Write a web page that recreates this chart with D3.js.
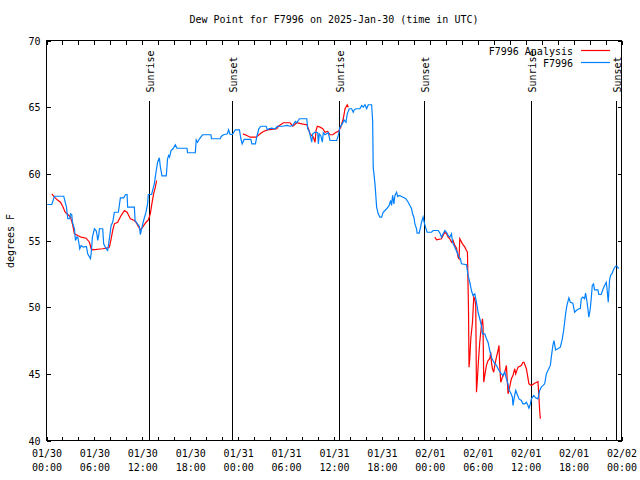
<!DOCTYPE html>
<html>
<head>
<meta charset="utf-8">
<script src="https://cdn.jsdelivr.net/npm/d3@7"></script>
<style>
  html, body { margin: 0; padding: 0; background: #fff; }
  svg { display: block; }
  text { font-family: "DejaVu Sans Mono", monospace; font-size: 10px; fill: #000; }
</style>
</head>
<body>
<svg id="chart" width="640" height="480"></svg>
<script>
// ---- data ----
const titleText = "Dew Point for F7996 on 2025-Jan-30 (time in UTC)";
const yLabelText = "degrees F";
const startTime = "2025-01-30T00:00:00Z";
const endTime = "2025-02-02T00:00:00Z";
const yTicks = [40, 45, 50, 55, 60, 65, 70];
const seriesNames = ["F7996 Analysis", "F7996"];
const seriesColors = ["#ff0000", "#0080ff"];

const sunriseHours = [12.79, 36.67, 60.66];
const sunsetHours = [23.29, 47.29, 71.29];

// F7996 observations (hours after start, deg F)
const blueHours = [0.09,0.66,1.0,2.16,2.34,2.5,2.66,2.91,3.0,3.16,3.25,3.5,3.63,3.79,3.91,4.04,4.16,4.34,4.59,5.0,5.16,5.5,5.59,5.75,6.0,6.21,6.34,6.41,6.54,6.63,7.04,7.16,7.46,7.66,7.84,8.09,8.29,8.5,9.0,9.25,9.66,9.91,10.09,10.16,11.0,11.09,11.63,11.75,11.91,12.16,12.46,12.66,12.75,13.16,13.5,13.71,13.91,14.13,14.25,14.46,15.0,15.16,15.29,15.41,15.59,15.84,16.13,16.34,17.59,17.66,18.63,18.75,18.91,19.16,19.54,20.59,20.66,21.75,21.88,22.16,22.66,22.79,23.0,23.29,23.63,24.16,24.34,24.5,24.75,25.59,25.71,26.16,26.34,26.59,26.84,27.5,27.66,27.84,28.16,28.63,28.91,29.59,30.09,30.5,30.84,31.16,31.34,31.66,32.59,32.71,32.91,33.21,33.34,33.63,33.96,34.04,34.16,34.34,34.54,34.66,34.88,35.29,35.5,36.34,36.54,36.75,37.09,37.25,37.5,37.66,37.91,38.21,38.41,38.54,38.75,39.25,39.46,39.66,39.88,40.09,40.29,40.71,40.84,40.91,41.13,41.34,41.54,41.75,41.96,42.16,42.59,42.91,43.09,43.21,43.34,43.5,43.63,43.84,43.96,44.16,44.66,45.0,45.29,45.5,45.71,45.84,46.0,46.13,46.34,46.41,46.66,46.84,46.96,47.16,47.29,47.46,47.66,48.21,48.41,49.04,49.25,49.46,49.66,49.88,50.09,50.29,50.5,50.71,50.84,51.13,51.41,51.66,51.84,51.96,52.59,52.79,53.0,53.21,53.41,53.63,53.75,53.91,54.04,54.25,54.46,54.59,54.88,55.09,55.29,55.5,55.71,55.91,56.13,56.34,56.66,56.96,57.16,57.38,57.59,57.79,57.91,58.09,58.34,58.41,58.54,58.75,58.91,59.16,59.46,59.66,59.88,60.09,60.29,60.41,60.59,60.71,61.0,61.25,61.54,61.75,61.96,62.38,62.59,62.79,63.09,63.21,63.41,63.54,63.75,64.04,64.34,64.59,64.75,64.88,65.0,65.16,65.41,65.59,65.91,66.13,66.34,66.66,66.84,66.96,67.16,67.38,67.5,67.66,67.79,67.91,68.09,68.21,68.34,68.5,68.63,69.04,69.16,69.46,69.66,69.88,70.09,70.21,70.34,70.5,70.63,70.84,71.04,71.25,71.46,71.63];
const blueValues = [57.70,57.70,58.32,58.32,57.87,57.50,56.63,56.63,57.00,56.95,56.37,55.88,55.0,55.25,55.25,54.87,54.38,54.63,54.50,54.55,54.0,53.63,54.0,55.25,55.88,55.75,55.38,55.0,55.38,55.88,55.88,54.75,54.38,54.25,55.0,56.13,56.37,57.12,57.12,58.2,58.2,58.45,58.45,57.5,57.5,56.5,56.05,55.45,55.88,56.5,57.12,57.75,58.45,58.45,59.25,60.12,60.87,61.2,60.55,59.85,59.85,61.13,61.38,61.25,61.75,61.88,62.18,61.92,61.92,61.58,61.58,62.55,62.37,62.63,62.93,62.93,62.63,62.63,62.8,62.93,63.0,63.3,62.95,62.95,63.3,63.3,62.63,62.25,62.58,62.58,62.25,62.25,62.8,63.38,63.57,63.57,63.3,63.38,63.42,63.38,63.57,63.57,63.63,63.57,63.63,63.93,63.83,64.13,64.13,63.38,63.18,62.37,63.0,63.12,63.08,62.25,63.0,62.88,62.37,63.08,62.93,63.08,62.5,62.5,62.88,63.5,63.8,64.05,63.87,64.5,64.88,64.88,64.62,64.8,64.88,64.88,65.12,65.0,65.18,64.88,65.18,65.18,64.0,60.5,59.25,57.5,57.0,56.75,56.75,57.12,57.38,57.63,58.0,57.63,58.38,57.75,58.38,58.62,58.3,58.38,58.25,58.13,57.87,57.63,57.38,57.0,56.75,56.25,55.88,55.55,55.55,56.0,56.37,56.75,56.37,56.0,55.62,55.62,55.75,55.75,55.57,55.25,55.5,55.75,55.62,55.38,55.25,55.5,54.87,54.5,54.12,53.75,53.63,53.25,53.18,52.38,51.87,51.25,50.87,51.0,50.63,50.12,49.62,49.13,48.62,48.0,48.0,47.63,47.37,46.75,46.25,46.0,45.75,45.63,45.25,45.0,44.87,45.12,44.63,44.25,43.75,43.62,43.25,42.62,43.12,43.75,43.5,43.12,43.0,42.75,42.75,42.87,42.62,42.42,42.75,43.12,43.38,43.2,43.12,43.75,44.0,44.25,45.0,45.25,45.63,46.25,47.13,47.5,46.8,46.88,47.0,47.63,48.25,48.87,49.5,50.12,50.7,50.37,50.3,49.62,49.75,49.88,49.88,50.63,50.75,50.63,51.05,50.5,49.88,49.25,49.88,50.63,51.63,51.75,51.3,51.3,50.95,50.95,51.3,51.63,51.87,51.25,50.37,52.0,52.38,52.55,52.88,53.07,53.07,52.88];

// F7996 Analysis (hours after start, deg F); null marks a gap
const redHours = [0.66,1.0,1.34,1.75,2.04,2.34,2.66,3.0,3.25,3.5,3.91,4.34,4.96,5.38,5.59,5.79,7.04,7.66,7.88,8.09,8.29,8.5,8.91,9.34,9.75,10.09,10.5,11.0,11.21,11.5,11.75,12.04,12.46,12.75,13.0,13.16,13.41,13.63,13.79,
  19.0,
  24.59,25.09,25.5,26.25,26.75,27.16,27.66,28.84,29.04,29.66,30.5,30.84,31.34,31.96,32.59,32.79,33.0,33.41,33.63,33.75,33.91,34.25,34.59,34.88,35.21,35.5,35.84,36.25,36.54,36.84,37.16,37.38,37.66,37.79,
  43.0,
  48.63,48.84,49.46,49.66,49.88,50.09,50.29,50.5,50.71,50.91,51.13,51.34,51.54,51.66,51.75,52.09,52.38,52.59,52.71,52.84,52.91,53.0,53.13,53.34,53.5,53.63,53.75,53.84,53.96,54.09,54.25,54.46,54.59,54.66,54.75,54.91,55.09,55.29,55.5,55.63,55.71,55.84,56.0,56.13,56.34,56.54,56.66,56.75,56.88,57.09,57.38,57.59,57.79,58.0,58.21,58.41,58.63,58.75,59.04,59.46,59.66,59.79,60.09,60.41,60.71,61.13,61.54,61.66,61.75,61.84];
const redValues = [58.5,58.25,58.05,57.87,57.55,57.12,56.95,56.75,56.25,55.5,55.38,55.25,55.17,54.87,54.38,54.3,54.38,54.45,54.5,55.13,55.75,56.25,56.37,56.87,57.25,57.12,56.63,56.5,56.37,56.05,55.8,56.0,56.37,56.55,57.0,57.63,58.5,59.0,59.5,
  null,
  63.0,62.88,62.75,62.75,63.0,63.18,63.3,63.38,63.57,63.83,63.83,63.57,63.83,63.75,63.68,63.38,63.0,62.75,62.37,63.25,63.57,63.5,63.38,63.12,63.18,62.93,62.93,63.12,63.18,63.5,64.13,64.88,65.18,65.0,
  null,
  55.25,55.05,55.13,55.38,55.62,55.5,55.25,55.13,54.87,55.0,54.63,54.42,53.75,53.63,55.13,54.75,54.5,54.25,54.12,49.88,45.5,46.13,47.63,48.87,50.75,50.63,50.12,43.62,44.63,46.0,47.37,48.62,49.13,48.62,44.37,45.0,45.63,46.0,46.13,46.62,45.87,45.38,45.12,45.63,46.25,46.75,47.13,45.63,44.37,44.75,45.12,45.63,43.5,44.0,44.63,44.87,45.38,45.0,45.5,45.63,45.87,45.87,45.38,44.25,44.12,44.3,44.42,43.25,42.25,41.63];

// ---- drawing ----
const svg = d3.select("#chart");
const t0 = new Date(startTime), t1 = new Date(endTime);
const toDate = h => new Date(t0.getTime() + h * 3600000);

const x = d3.scaleUtc().domain([t0, t1]).range([46.5, 621.5]);
const y = d3.scaleLinear().domain([40, 70]).range([440.5, 40.5]);

// title
svg.append("text").attr("x", 334).attr("y", 23).attr("text-anchor", "middle").text(titleText);
// y label
svg.append("text").attr("transform", "translate(14,241) rotate(-90)").attr("text-anchor", "middle").text(yLabelText);

const minorTicks = d3.utcHour.every(2).range(t0, d3.utcHour.offset(t1, 1));
const majorTicks = d3.utcHour.every(6).range(t0, d3.utcHour.offset(t1, 1));

// bottom axis (inward ticks)
const gB = svg.append("g").attr("transform", "translate(0,440.5)")
  .call(d3.axisBottom(x).tickValues(minorTicks).tickSize(-4).tickFormat(""));
gB.select(".domain").remove();
// bottom labels
const fmtD = d3.utcFormat("%m/%d"), fmtT = d3.utcFormat("%H:%M");
const gBL = svg.append("g").attr("transform", "translate(0,440.5)")
  .call(d3.axisBottom(x).tickValues(majorTicks).tickSize(0).tickFormat(""));
gBL.select(".domain").remove();
gBL.selectAll(".tick").each(function(d) {
  const t = d3.select(this).append("text").attr("text-anchor", "middle").attr("fill", "#000");
  t.append("tspan").attr("x", 0).attr("y", 16.5).text(fmtD(d));
  t.append("tspan").attr("x", 0).attr("y", 30.5).text(fmtT(d));
});
// top axis mirror
const gT = svg.append("g").attr("transform", "translate(0,40.5)")
  .call(d3.axisTop(x).tickValues(minorTicks).tickSize(-4).tickFormat(""));
gT.select(".domain").remove();
// left axis
const gL = svg.append("g").attr("transform", "translate(46.5,0)")
  .call(d3.axisLeft(y).tickValues(yTicks).tickSize(-4).tickPadding(6).tickFormat(d3.format("d")));
gL.select(".domain").remove();
gL.selectAll("text").attr("dy", "0.35em").style("font-family", "DejaVu Sans Mono").style("font-size", "10px");
// right axis mirror
const gR = svg.append("g").attr("transform", "translate(621.5,0)")
  .call(d3.axisRight(y).tickValues(yTicks).tickSize(-4).tickFormat(""));
gR.select(".domain").remove();

svg.selectAll(".tick line").attr("stroke", "#000").attr("shape-rendering", "crispEdges");
svg.selectAll(".tick text").style("font-family", "DejaVu Sans Mono").style("font-size", "10px");

// border
svg.append("rect").attr("x", x.range()[0]).attr("y", y.range()[1])
  .attr("width", x.range()[1] - x.range()[0]).attr("height", y.range()[0] - y.range()[1])
  .attr("fill", "none").attr("stroke", "#000").attr("shape-rendering", "crispEdges");

// sunrise / sunset markers
const markerTop = 40 + 0.85 * 30;
const markers = sunriseHours.map(h => ({h, label: "Sunrise"}))
  .concat(sunsetHours.map(h => ({h, label: "Sunset"})));
markers.forEach(m => {
  const mx = Math.round(x(toDate(m.h))) + 0.5;
  svg.append("line").attr("x1", mx).attr("x2", mx).attr("y1", y(markerTop)).attr("y2", y(40))
    .attr("stroke", "#000").attr("shape-rendering", "crispEdges");
  svg.append("text").attr("transform", `translate(${mx + 4.5},${y(markerTop) - 8}) rotate(-90)`)
    .attr("text-anchor", "start").text(m.label);
});

// series
const line = d3.line()
  .defined(d => d.v !== null)
  .x(d => x(toDate(d.h)))
  .y(d => y(d.v));

const redData = redHours.map((h, i) => ({h, v: redValues[i]}));
const blueData = blueHours.map((h, i) => ({h, v: blueValues[i]}));

svg.append("path").datum(redData).attr("d", line)
  .attr("fill", "none").attr("stroke", seriesColors[0]).attr("stroke-width", 1.2);
svg.append("path").datum(blueData).attr("d", line)
  .attr("fill", "none").attr("stroke", seriesColors[1]).attr("stroke-width", 1.2);

// legend
const legendRows = [{name: seriesNames[0], color: seriesColors[0], yy: 50.5},
                    {name: seriesNames[1], color: seriesColors[1], yy: 62.5}];
legendRows.forEach(r => {
  svg.append("text").attr("x", 573).attr("y", r.yy + 4).attr("text-anchor", "end").text(r.name);
  svg.append("line").attr("x1", 581).attr("x2", 610).attr("y1", r.yy).attr("y2", r.yy)
    .attr("stroke", r.color).attr("stroke-width", 1.2);
});
</script>
</body>
</html>
